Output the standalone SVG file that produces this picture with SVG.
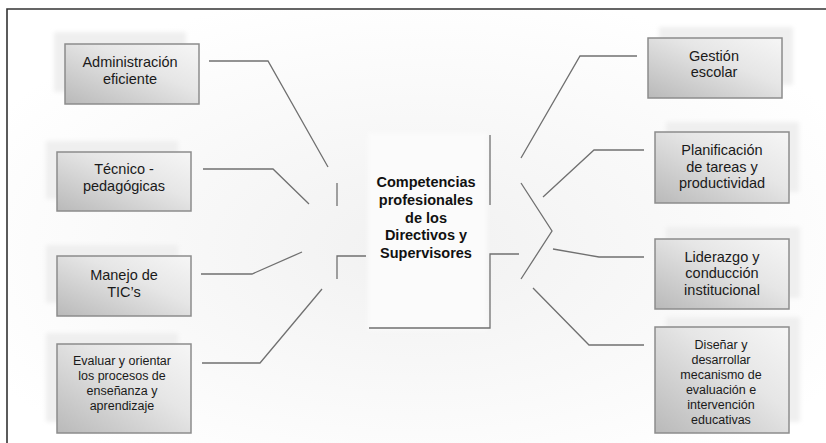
<svg xmlns="http://www.w3.org/2000/svg" width="826" height="443" viewBox="0 0 826 443">
<defs>
<linearGradient id="boxfill" x1="0" y1="1" x2="1" y2="0">
<stop offset="0" stop-color="#b9b9b9"/>
<stop offset="0.6" stop-color="#e6e6e6"/>
<stop offset="1" stop-color="#f6f6f6"/>
</linearGradient>
<radialGradient id="bg" cx="0.5" cy="0.55" r="0.6">
<stop offset="0" stop-color="#f1f1f1"/>
<stop offset="1" stop-color="#ffffff"/>
</radialGradient>
<filter id="soft" x="-10%" y="-10%" width="120%" height="120%">
<feGaussianBlur stdDeviation="2"/>
</filter>
</defs>
<style>
.shadow{fill:#efefef;filter:url(#soft)}
.box{fill:url(#boxfill);stroke:#8c8c8c;stroke-width:1.5}
.t{font-family:"Liberation Sans",Arial,sans-serif;font-size:14.5px;fill:#1a1a1a;text-anchor:middle}
.s{font-size:12.5px}
.c{font-family:"Liberation Sans",Arial,sans-serif;font-size:14.5px;font-weight:bold;fill:#111;text-anchor:middle}
.ln{fill:none;stroke:#707070;stroke-width:1.3}
.frame{fill:none;stroke:#333;stroke-width:1.6}
</style>
<rect x="0" y="0" width="826" height="443" fill="#fff"/>
<rect x="8" y="10" width="818" height="433" fill="url(#bg)"/>
<path class="frame" d="M7,443 V9 H826"/>

<g id="center">
<rect x="368" y="133" width="119" height="197" fill="#fbfbfb" filter="url(#soft)"/>
<text class="c" x="426" y="187">Competencias</text>
<text class="c" x="426" y="205">profesionales</text>
<text class="c" x="426" y="223">de los</text>
<text class="c" x="426" y="240">Directivos y</text>
<text class="c" x="426" y="258">Supervisores</text>
</g>

<g id="connectors">
<path class="ln" d="M337,183 V206"/>
<path class="ln" d="M337,279 V256 H366"/>
<path class="ln" d="M490,135 V205"/>
<path class="ln" d="M519,254 H490 V328 H369"/>
<path class="ln" d="M521,183 L552,231 L521,279"/>
<path class="ln" d="M209,61 H268 L328,167"/>
<path class="ln" d="M203,169 H273 L309,204"/>
<path class="ln" d="M201,274 H252 L302,252"/>
<path class="ln" d="M202,363 H260 L322,289"/>
<path class="ln" d="M637,56 H580 L521,158"/>
<path class="ln" d="M644,150 H594 L543,197"/>
<path class="ln" d="M644,257 H599 L553,249"/>
<path class="ln" d="M644,345 H589 L533,288"/>
</g>

<g id="n-admin">
<rect class="shadow" x="54" y="32" width="132" height="60"/>
<rect class="box" x="65" y="44" width="134" height="60"/>
<text class="t" x="130" y="67">Administración</text>
<text class="t" x="130" y="84">eficiente</text>
</g>
<g id="n-tecnico">
<rect class="shadow" x="46" y="141" width="132" height="58"/>
<rect class="box" x="57" y="152" width="134" height="59"/>
<text class="t" x="124" y="174">Técnico -</text>
<text class="t" x="124" y="191">pedagógicas</text>
</g>
<g id="n-tic">
<rect class="shadow" x="46" y="245" width="132" height="58"/>
<rect class="box" x="57" y="256" width="134" height="60"/>
<text class="t" x="124" y="280">Manejo de</text>
<text class="t" x="124" y="297">TIC’s</text>
</g>
<g id="n-evaluar">
<rect class="shadow" x="46" y="333" width="132" height="89"/>
<rect class="box" x="57" y="344" width="134" height="89"/>
<text class="t s" x="122" y="365">Evaluar y orientar</text>
<text class="t s" x="122" y="380">los procesos de</text>
<text class="t s" x="122" y="395">enseñanza y</text>
<text class="t s" x="122" y="410">aprendizaje</text>
</g>

<g id="n-gestion">
<rect class="shadow" x="659" y="27" width="134" height="58"/>
<rect class="box" x="648" y="38" width="134" height="60"/>
<text class="t" x="714" y="61">Gestión</text>
<text class="t" x="714" y="77">escolar</text>
</g>
<g id="n-planificacion">
<rect class="shadow" x="666" y="122" width="133" height="70"/>
<rect class="box" x="655" y="132" width="134" height="71"/>
<text class="t" x="722" y="155">Planificación</text>
<text class="t" x="722" y="172">de tareas  y</text>
<text class="t" x="722" y="188">productividad</text>
</g>
<g id="n-liderazgo">
<rect class="shadow" x="666" y="227" width="134" height="71"/>
<rect class="box" x="655" y="239" width="134" height="70"/>
<text class="t" x="722" y="262">Liderazgo y</text>
<text class="t" x="722" y="278">conducción</text>
<text class="t" x="722" y="295">institucional</text>
</g>
<g id="n-disenar">
<rect class="shadow" x="666" y="317" width="134" height="105"/>
<rect class="box" x="655" y="327" width="134" height="106"/>
<text class="t s" x="721" y="349">Diseñar y</text>
<text class="t s" x="721" y="364">desarrollar</text>
<text class="t s" x="721" y="379">mecanismo de</text>
<text class="t s" x="721" y="394">evaluación e</text>
<text class="t s" x="721" y="409">intervención</text>
<text class="t s" x="721" y="424">educativas</text>
</g>
</svg>
